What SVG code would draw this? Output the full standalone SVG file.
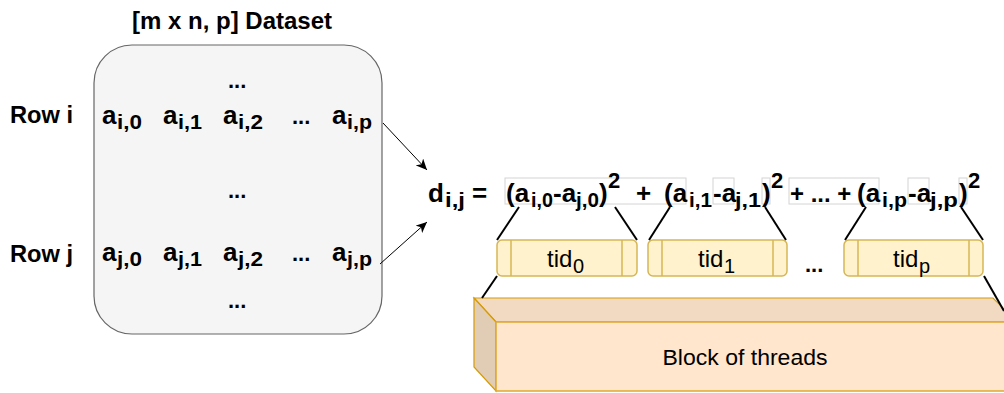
<svg xmlns="http://www.w3.org/2000/svg" width="1004" height="393" viewBox="0 0 1004 393">
<style>
text{font-family:"Liberation Sans",Arial,sans-serif;fill:#000}
.lbl{font-size:23px;font-weight:bold}
.m{font-size:26px;font-weight:bold}
.s{font-size:20px;font-weight:bold}
.sup{font-size:22px;font-weight:bold}
.dots{font-size:22px;font-weight:bold}
.tid{font-size:24px}
.tids{font-size:20px}
.fb{fill:#ffffff;stroke:#d4d4d4;stroke-width:1}
.tb{fill:#fff2cc;stroke:#d6b656;stroke-width:1.5}
.tl{stroke:#d6b656;stroke-width:1.5}
.ln{stroke:#000;stroke-width:2;fill:none}
.ar{stroke:#000;stroke-width:1;fill:none}
</style>
<defs>
<marker id="ah" markerUnits="userSpaceOnUse" markerWidth="12" markerHeight="10" refX="11" refY="5" orient="auto">
<path d="M0,0 L11,5 L0,10 L3,5 z" fill="#000"/>
</marker>
</defs>
<rect width="1004" height="393" fill="#ffffff"/>

<g id="dataset">
<text class="lbl" x="132" y="29" textLength="200" lengthAdjust="spacingAndGlyphs">[m x n, p] Dataset</text>
<rect x="94" y="45" width="288" height="289" rx="38" ry="38" fill="#f5f5f5" stroke="#666666" stroke-width="1.2"/>
<text class="dots" x="228" y="88">...</text>
<text class="dots" x="228" y="198">...</text>
<text class="dots" x="228" y="308">...</text>
</g>

<g id="row-i">
<text class="lbl" x="10" y="123" textLength="63" lengthAdjust="spacingAndGlyphs">Row i</text>
<text class="m" x="102" y="124">a</text><text class="s" x="117" y="129" textLength="25" lengthAdjust="spacingAndGlyphs">i,0</text>
<text class="m" x="163" y="124">a</text><text class="s" x="178" y="129" textLength="24" lengthAdjust="spacingAndGlyphs">i,1</text>
<text class="m" x="223" y="124">a</text><text class="s" x="238" y="129" textLength="25" lengthAdjust="spacingAndGlyphs">i,2</text>
<text class="dots" x="292" y="124">...</text>
<text class="m" x="332" y="124">a</text><text class="s" x="347" y="129" textLength="25" lengthAdjust="spacingAndGlyphs">i,p</text>
</g>

<g id="row-j">
<text class="lbl" x="10" y="262" textLength="63" lengthAdjust="spacingAndGlyphs">Row j</text>
<text class="m" x="102" y="261">a</text><text class="s" x="117" y="266" textLength="25" lengthAdjust="spacingAndGlyphs">j,0</text>
<text class="m" x="163" y="261">a</text><text class="s" x="178" y="266" textLength="24" lengthAdjust="spacingAndGlyphs">j,1</text>
<text class="m" x="223" y="261">a</text><text class="s" x="238" y="266" textLength="25" lengthAdjust="spacingAndGlyphs">j,2</text>
<text class="dots" x="292" y="261">...</text>
<text class="m" x="332" y="261">a</text><text class="s" x="347" y="266" textLength="25" lengthAdjust="spacingAndGlyphs">j,p</text>
</g>

<g id="formula">
<rect class="fb" x="505" y="178" width="181" height="26"/>
<rect class="fb" x="713" y="178" width="21" height="26"/>
<rect class="fb" x="762" y="178" width="8" height="26"/>
<rect class="fb" x="789" y="178" width="90" height="26"/>
<rect class="fb" x="908" y="178" width="21" height="26"/>
<rect class="fb" x="959" y="178" width="8" height="26"/>
<text class="m" x="428" y="202">d</text><text class="s" x="445" y="207" textLength="20" lengthAdjust="spacingAndGlyphs">i,j</text>
<text class="m" x="472" y="202">=</text>
<text class="m" x="506" y="202">(a</text><text class="s" x="531" y="207" textLength="22" lengthAdjust="spacingAndGlyphs">i,0</text>
<text class="m" x="553" y="202">-a</text><text class="s" x="576" y="207" textLength="23" lengthAdjust="spacingAndGlyphs">j,0</text>
<text class="m" x="599" y="202">)</text><text class="sup" x="608" y="188">2</text>
<text class="m" x="636" y="202">+</text>
<text class="m" x="664" y="202">(a</text><text class="s" x="689" y="207" textLength="23" lengthAdjust="spacingAndGlyphs">i,1</text>
<text class="m" x="713" y="202">-a</text><text class="s" x="735" y="207" textLength="26" lengthAdjust="spacingAndGlyphs">j,1</text>
<text class="m" x="762" y="202">)</text><text class="sup" x="771" y="188">2</text>
<text class="m" x="790" y="202" style="font-size:24px">+ ... +</text>
<text class="m" x="857" y="202">(a</text><text class="s" x="882" y="207" textLength="25" lengthAdjust="spacingAndGlyphs">i,p</text>
<text class="m" x="908" y="202">-a</text><text class="s" x="930" y="207" textLength="28" lengthAdjust="spacingAndGlyphs">j,p</text>
<text class="m" x="959" y="202">)</text><text class="sup" x="968" y="188">2</text>
</g>

<g id="tid0">
<rect class="tb" x="497" y="240" width="140" height="36" rx="5"/>
<line class="tl" x1="511" y1="240" x2="511" y2="276"/>
<line class="tl" x1="622" y1="240" x2="622" y2="276"/>
<text class="tid" x="547" y="267">tid</text><text class="tids" x="573" y="273">0</text>
</g>
<g id="tid1">
<rect class="tb" x="648" y="240" width="139" height="36" rx="5"/>
<line class="tl" x1="662" y1="240" x2="662" y2="276"/>
<line class="tl" x1="773" y1="240" x2="773" y2="276"/>
<text class="tid" x="698" y="267">tid</text><text class="tids" x="724" y="273">1</text>
</g>
<text class="dots" x="805" y="272">...</text>
<g id="tidp">
<rect class="tb" x="844" y="240" width="139" height="36" rx="5"/>
<line class="tl" x1="858" y1="240" x2="858" y2="276"/>
<line class="tl" x1="969" y1="240" x2="969" y2="276"/>
<text class="tid" x="893" y="267">tid</text><text class="tids" x="919" y="273">p</text>
</g>

<g id="block">
<polygon points="474,298 993,298 1017,322 496,322" fill="#f2dac2" stroke="#d79b00" stroke-width="1.2"/>
<polygon points="474,298 496,322 496,391 474,367" fill="#e1ccb6" stroke="#d79b00" stroke-width="1.2"/>
<rect x="496" y="322" width="520" height="69" fill="#ffe6cc" stroke="#e0a830" stroke-width="1.5"/>
<text x="745" y="365" text-anchor="middle" style="font-size:22px" textLength="165" lengthAdjust="spacingAndGlyphs">Block of threads</text>
</g>

<g id="connectors">
<line class="ar" x1="383" y1="123" x2="427" y2="170" marker-end="url(#ah)"/>
<line class="ar" x1="380" y1="264" x2="427" y2="222" marker-end="url(#ah)"/>
<line class="ln" x1="519" y1="207" x2="497" y2="240"/>
<line class="ln" x1="615" y1="207" x2="637" y2="240"/>
<line class="ln" x1="670" y1="207" x2="649" y2="240"/>
<line class="ln" x1="765" y1="207" x2="786" y2="240"/>
<line class="ln" x1="866" y1="207" x2="845" y2="240"/>
<line class="ln" x1="961" y1="207" x2="983" y2="240"/>
<line class="ln" x1="497" y1="276" x2="482" y2="298"/>
<line class="ln" x1="984" y1="276" x2="1004" y2="311"/>
</g>
</svg>
